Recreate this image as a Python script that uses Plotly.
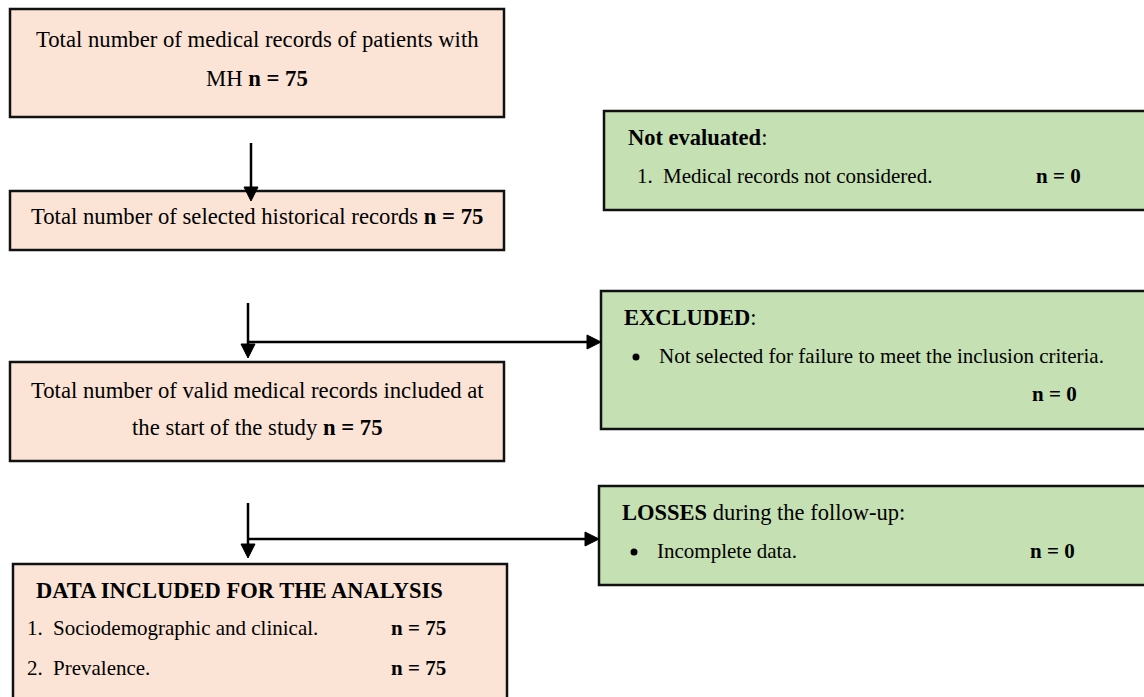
import plotly.graph_objects as go

# ---------------- data ----------------
n_total_records = 75
n_selected = 75
n_valid = 75
n_not_evaluated = 0
n_excluded = 0
n_losses = 0
analysis_labels = ["Sociodemographic and clinical.", "Prevalence."]
analysis_n = [75, 75]

# ---------------- style ----------------
FONT = "Liberation Serif"
FS_MAIN = 22.7   # centred box texts
FS_HEAD = 22.5   # bold headings
FS_ITEM = 21     # list items
PEACH = "#FBE4D5"
GREEN = "#C5E0B3"
INK = "#000000"
W, H = 1144, 697

fig = go.Figure()
shapes = []
annos = []


def box(x0, y0, x1, y1, fill):
    shapes.append(dict(type="rect", xref="x", yref="y", x0=x0, y0=y0, x1=x1, y1=y1,
                       fillcolor=fill, line=dict(color="#111111", width=2.5), layer="below"))


def txt(x, y, s, anchor="left", size=FS_ITEM):
    annos.append(dict(x=x, y=y, xref="x", yref="y", text=s, showarrow=False,
                      xanchor=anchor, yanchor="middle",
                      font=dict(family=FONT, size=size, color=INK)))


def vline(x, y0, y1):
    shapes.append(dict(type="line", xref="x", yref="y", x0=x, x1=x, y0=y0, y1=y1,
                       line=dict(color=INK, width=2.5)))


def hline(y, x0, x1):
    shapes.append(dict(type="line", xref="x", yref="y", x0=x0, x1=x1, y0=y, y1=y,
                       line=dict(color=INK, width=2.5)))


def head_down(x, tip):
    shapes.append(dict(type="path", xref="x", yref="y",
                       path=f"M {x-7},{tip-14} L {x+7},{tip-14} L {x},{tip} Z",
                       fillcolor=INK, line=dict(color=INK, width=1)))


def head_right(y, tip):
    shapes.append(dict(type="path", xref="x", yref="y",
                       path=f"M {tip-14},{y-7} L {tip-14},{y+7} L {tip},{y} Z",
                       fillcolor=INK, line=dict(color=INK, width=1)))


def bullet(x, y):
    shapes.append(dict(type="circle", xref="x", yref="y", x0=x-3.5, x1=x+3.5, y0=y-3.5, y1=y+3.5,
                       fillcolor=INK, line=dict(color=INK, width=0)))


# ---------------- boxes ----------------
box(10, 9, 504, 117, PEACH)
box(10, 191, 504, 250, PEACH)
box(10, 362, 504, 461, PEACH)
box(13, 564, 507, 712, PEACH)
box(604, 111, 1160, 210, GREEN)
box(601, 291, 1160, 429, GREEN)
box(599, 486, 1160, 585, GREEN)

# ---------------- arrows ----------------
vline(251, 143, 190)
head_down(251, 201)

vline(248, 303, 347)
head_down(248, 358)
hline(342, 248, 590)
head_right(342, 601)

vline(248, 503, 547)
head_down(248, 558)
hline(539, 248, 588)
head_right(539, 599)

# ---------------- texts ----------------
txt(257, 39, "Total number of medical records of patients with", "center", FS_MAIN)
txt(257, 78, f"MH <b>n = {n_total_records}</b>", "center", FS_MAIN)
txt(257, 216, f"Total number of selected historical records <b>n = {n_selected}</b>", "center", FS_MAIN)
txt(257, 390, "Total number of valid medical records included at", "center", FS_MAIN)
txt(257, 427, f"the start of the study <b>n = {n_valid}</b>", "center", FS_MAIN)

txt(626, 137, "<b>Not evaluated</b>:", size=FS_HEAD)
txt(635, 176, "1.")
txt(661, 176, "Medical records not considered.")
txt(1034, 176, f"<b>n = {n_not_evaluated}</b>")

txt(622, 317, "<b>EXCLUDED</b>:", size=FS_HEAD)
bullet(636, 357)
txt(657, 356, "Not selected for failure to meet the inclusion criteria.")
txt(1030, 394, f"<b>n = {n_excluded}</b>")

txt(620, 512, "<b>LOSSES</b> during the follow-up:", size=FS_HEAD)
bullet(634, 552)
txt(655, 551, "Incomplete data.")
txt(1028, 551, f"<b>n = {n_losses}</b>")

txt(34, 590, "<b>DATA INCLUDED FOR THE ANALYSIS</b>", size=FS_HEAD)
rows_y = [628, 668]
for i, (lab, nv) in enumerate(zip(analysis_labels, analysis_n)):
    txt(25, rows_y[i], f"{i+1}.")
    txt(51, rows_y[i], lab)
    txt(389, rows_y[i], f"<b>n = {nv}</b>")

fig.update_layout(
    width=W, height=H,
    margin=dict(l=0, r=0, t=0, b=0),
    paper_bgcolor="white", plot_bgcolor="white",
    xaxis=dict(range=[0, W], visible=False, fixedrange=True),
    yaxis=dict(range=[H, 0], visible=False, fixedrange=True),
    shapes=shapes, annotations=annos, showlegend=False,
)

fig.write_html("out.html", config={"displayModeBar": False},
               post_script="document.body.style.margin='0';document.body.style.overflow='hidden';")
